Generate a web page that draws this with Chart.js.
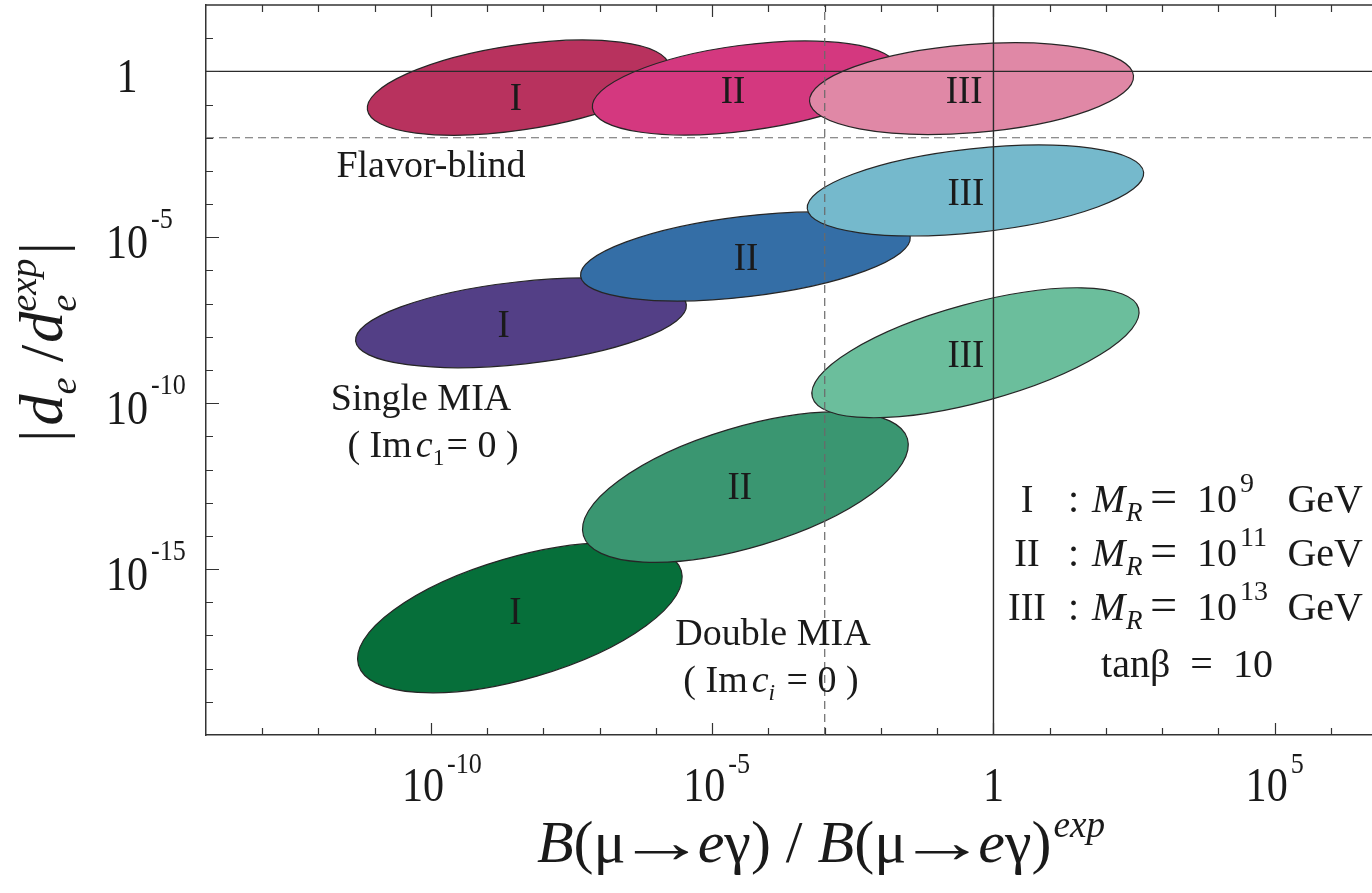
<!DOCTYPE html>
<html>
<head>
<meta charset="utf-8">
<script src="https://cdn.jsdelivr.net/npm/chart.js@4.4.0/dist/chart.umd.min.js"></script>
<style>
html, body { margin: 0; padding: 0; background: #fff; overflow: hidden; }
#wrap { width: 1372px; height: 893px; position: relative; }
</style>
</head>
<body>
<div id="wrap"><canvas id="edmChart"></canvas></div>
<script>
// all region values are log10 (decades) on both axes
var models = ["I", "II", "III"];

// flavor-blind regions
var flavorCx = [-8.45, -4.42, -0.39];
var flavorCy = [-0.49, -0.50, -0.52];
var flavorTipDx = [2.68, 2.71, 2.88];   // half major axis, x part
var flavorTipDy = [0.67, 0.61, 0.39];   // half major axis, y part
var flavorHalfW = [1.28, 1.29, 1.33];   // half minor axis
var flavorLabX = [-8.49, -4.63, -0.52];
var flavorLabY = [-0.77, -0.55, -0.55];

// single MIA regions
var singleCx = [-8.40, -4.41, -0.32];
var singleCy = [-7.58, -5.58, -3.59];
var singleTipDx = [2.94, 2.93, 2.99];
var singleTipDy = [0.55, 0.59, 0.55];
var singleHalfW = [1.24, 1.21, 1.26];
var singleLabX = [-8.71, -4.40, -0.49];
var singleLabY = [-7.60, -5.58, -3.64];

// double MIA regions
var doubleCx = [-8.42, -4.41, -0.32];
var doubleCy = [-16.47, -12.53, -8.48];
var doubleTipDx = [2.87, 2.88, 2.90];
var doubleTipDy = [1.42, 1.46, 1.34];
var doubleHalfW = [1.83, 1.81, 1.48];
var doubleLabX = [-8.50, -4.51, -0.49];
var doubleLabY = [-16.25, -12.51, -8.53];

// reference lines (experimental bounds)
var refLineX = [1, 1e-3];
var refLineY = [1, 1e-2];
var refDashed = [false, true];

// axes
var xRange = [-14, 6.73];
var yRange = [-20, 2];
var xTickExp = [-10, -5, 0, 5];
var yTickExp = [0, -5, -10, -15];
var legendExp = ['9', '11', '13'];

var flavorColors = ['#b8325e', '#d4387f', '#e088a6'];
var singleColors = ['#533f86', '#346ea6', '#75b9cc'];
var doubleColors = ['#066f3a', '#3a9671', '#6bbe9c'];

var SERIF = '"Liberation Serif", "Times New Roman", serif';

var groups = [
    {cx: flavorCx, cy: flavorCy, dx: flavorTipDx, dy: flavorTipDy, hw: flavorHalfW, lx: flavorLabX, ly: flavorLabY, colors: flavorColors},
    {cx: singleCx, cy: singleCy, dx: singleTipDx, dy: singleTipDy, hw: singleHalfW, lx: singleLabX, ly: singleLabY, colors: singleColors},
    {cx: doubleCx, cy: doubleCy, dx: doubleTipDx, dy: doubleTipDy, hw: doubleHalfW, lx: doubleLabX, ly: doubleLabY, colors: doubleColors}
];

function p10(v) { return Math.pow(10, v); }

// plain text, optionally squeezed horizontally
function textS(ctx, t, x, y, font, align, sx) {
    sx = sx || 1;
    ctx.save();
    ctx.font = font;
    ctx.textBaseline = 'alphabetic';
    ctx.textAlign = 'left';
    var w = ctx.measureText(t).width * sx;
    var x0 = align === 'center' ? x - w / 2 : (align === 'right' ? x - w : x);
    ctx.translate(x0, y);
    ctx.scale(sx, 1);
    ctx.fillText(t, 0, 0);
    ctx.restore();
    return w;
}

// rich text: segments with italic / sub / sup / horizontal stretch
function layoutRich(ctx, segs, size) {
    var x = 0, parts = [], prevStart = 0, prevW = 0;
    segs.forEach(function (s) {
        var fs = (s.sub || s.sup) ? size * 0.62 : size;
        var font = (s.it ? 'italic ' : '') + fs + 'px ' + SERIF;
        var sx = s.sx || 1;
        ctx.font = font;
        var w = ctx.measureText(s.t).width * sx;
        var start = s.stack ? prevStart : x + (s.gap || 0);
        parts.push({t: s.t, font: font, x: start, sx: sx, dy: (s.sub ? size * 0.22 : (s.sup ? -size * 0.42 : 0)) + (s.dy || 0)});
        var end = start + w + (s.after || 0);
        if (s.stack) end = Math.max(end, prevStart + prevW);
        prevStart = start; prevW = w; x = end;
    });
    return {parts: parts, width: x};
}

function drawRich(ctx, segs, x, y, size, align) {
    var lay = layoutRich(ctx, segs, size);
    var off = align === 'center' ? -lay.width / 2 : (align === 'right' ? -lay.width : 0);
    ctx.textAlign = 'left';
    ctx.textBaseline = 'alphabetic';
    lay.parts.forEach(function (p) {
        ctx.save();
        ctx.font = p.font;
        ctx.translate(x + off + p.x, y + p.dy);
        ctx.scale(p.sx, 1);
        ctx.fillText(p.t, 0, 0);
        ctx.restore();
    });
}

var regionPlugin = {
    id: 'regions',
    beforeDatasetsDraw: function (chart) {
        var ctx = chart.ctx, xs = chart.scales.x, ys = chart.scales.y, area = chart.chartArea;
        ctx.save();
        ctx.beginPath();
        ctx.rect(area.left, area.top, area.right - area.left, area.bottom - area.top);
        ctx.clip();
        groups.forEach(function (g) {
            for (var i = 0; i < models.length; i++) {
                var px = xs.getPixelForValue(p10(g.cx[i]));
                var py = ys.getPixelForValue(p10(g.cy[i]));
                var tx = xs.getPixelForValue(p10(g.cx[i] + g.dx[i])) - px;
                var ty = ys.getPixelForValue(p10(g.cy[i] + g.dy[i])) - py;
                var a = Math.sqrt(tx * tx + ty * ty);
                var b = Math.abs(ys.getPixelForValue(p10(g.cy[i] - g.hw[i])) - py);
                ctx.beginPath();
                ctx.ellipse(px, py, a, b, Math.atan2(ty, tx), 0, 2 * Math.PI);
                ctx.fillStyle = g.colors[i];
                ctx.fill();
                ctx.lineWidth = 1.2;
                ctx.strokeStyle = '#262626';
                ctx.stroke();
            }
        });
        ctx.restore();
    },
    afterDraw: function (chart) {
        var ctx = chart.ctx, xs = chart.scales.x, ys = chart.scales.y, area = chart.chartArea;
        ctx.save();
        ctx.fillStyle = '#1a1a1a';

        // region labels
        groups.forEach(function (g) {
            for (var i = 0; i < models.length; i++) {
                textS(ctx, models[i], xs.getPixelForValue(p10(g.lx[i])), ys.getPixelForValue(p10(g.ly[i])) + 13,
                    '40px ' + SERIF, 'center', 0.92);
            }
        });

        // frame top line + inward ticks
        ctx.strokeStyle = '#333';
        ctx.lineWidth = 1.5;
        ctx.beginPath();
        ctx.moveTo(area.left, area.top);
        ctx.lineTo(area.right, area.top);
        ctx.stroke();
        ctx.lineWidth = 1.2;
        ctx.beginPath();
        for (var k = Math.ceil(xRange[0]) + 1; k <= Math.floor(xRange[1]); k++) {
            var xp = Math.round(xs.getPixelForValue(p10(k))) + 0.5;
            var len = (k % 5 === 0) ? 12 : 7;
            ctx.moveTo(xp, area.bottom); ctx.lineTo(xp, area.bottom - len);
            ctx.moveTo(xp, area.top); ctx.lineTo(xp, area.top + len);
        }
        for (var j = yRange[0] + 1; j < yRange[1]; j++) {
            var yp = Math.round(ys.getPixelForValue(p10(j))) + 0.5;
            var ylen = (j % 5 === 0) ? 13 : 7;
            ctx.moveTo(area.left, yp); ctx.lineTo(area.left + ylen, yp);
        }
        ctx.stroke();

        // tick labels
        var baseFont = '49px ' + SERIF, supFont = '29px ' + SERIF;
        xTickExp.forEach(function (e) {
            var xp = xs.getPixelForValue(p10(e));
            if (e === 0) {
                textS(ctx, '1', xp, area.bottom + 66, baseFont, 'center', 0.86);
            } else {
                var bc = xp - 8;
                var bw = textS(ctx, '10', bc, area.bottom + 66, baseFont, 'center', 0.86);
                textS(ctx, String(e), bc + bw / 2 + 3, area.bottom + 38, supFont, 'left', 0.9);
            }
        });
        yTickExp.forEach(function (e) {
            var yp = ys.getPixelForValue(p10(e));
            var bc = area.left - 79;
            if (e === 0) {
                textS(ctx, '1', bc, yp + 21, baseFont, 'center', 0.86);
            } else {
                var bw = textS(ctx, '10', bc, yp + 21, baseFont, 'center', 0.86);
                textS(ctx, String(e), bc + bw / 2 + 3, yp - 9, supFont, 'left', 0.9);
            }
        });

        // axis titles
        drawRich(ctx, [
            {t: 'B', it: 1}, {t: '(μ'}, {t: '→', sx: 1.5, gap: -9, after: -9}, {t: 'e', it: 1}, {t: 'γ)'}, {t: ' / '},
            {t: 'B', it: 1}, {t: '(μ'}, {t: '→', sx: 1.5, gap: -9, after: -9}, {t: 'e', it: 1}, {t: 'γ)'}, {t: 'exp', it: 1, sup: 1, gap: 2}
        ], 821, 862, 60, 'center');

        ctx.save();
        ctx.translate(62, 342);
        ctx.rotate(-Math.PI / 2);
        drawRich(ctx, [
            {t: '|'}, {t: 'd', it: 1, gap: 4}, {t: 'e', it: 1, sub: 1}, {t: ' /'},
            {t: 'd', it: 1, gap: 2}, {t: 'e', it: 1, sub: 1}, {t: 'exp', it: 1, sup: 1, stack: 1}, {t: '|', gap: 4}
        ], 0, 0, 62, 'center');
        ctx.restore();

        // annotations
        drawRich(ctx, [{t: 'Flavor-blind'}], 431, 177, 38, 'center');
        drawRich(ctx, [{t: 'Single MIA'}], 421, 410, 38, 'center');
        drawRich(ctx, [{t: '( Im'}, {t: 'c', it: 1, gap: 4}, {t: '1', sub: 1}, {t: '= 0 )', gap: 2}], 433, 457, 38, 'center');
        drawRich(ctx, [{t: 'Double MIA'}], 773, 645, 38, 'center');
        drawRich(ctx, [{t: '( Im'}, {t: 'c', it: 1, gap: 4}, {t: 'i', it: 1, sub: 1}, {t: ' = 0 )', gap: 2}], 771, 692, 38, 'center');

        // legend block
        var rowY = [512, 566, 620];
        var lf = '40px ' + SERIF;
        for (var r = 0; r < models.length; r++) {
            textS(ctx, models[r], 1027, rowY[r], lf, 'center', 0.95);
            textS(ctx, ':', 1068, rowY[r], lf, 'left');
            textS(ctx, 'M', 1092, rowY[r], 'italic ' + lf, 'left');
            textS(ctx, 'R', 1126, rowY[r] + 9, 'italic 27px ' + SERIF, 'left');
            textS(ctx, '=', 1150, rowY[r], '46px ' + SERIF, 'left', 1.05);
            var w10 = textS(ctx, '10', 1197, rowY[r], lf, 'left');
            textS(ctx, legendExp[r], 1197 + w10 + 3, rowY[r] - 20, '28px ' + SERIF, 'left');
            textS(ctx, 'GeV', 1363, rowY[r], lf, 'right');
        }
        textS(ctx, 'tanβ  =  10', 1187, 677, lf, 'center');
        ctx.restore();
    }
};

var datasets = [];
refLineY.forEach(function (v, i) {
    datasets.push({
        type: 'line', data: [{x: p10(xRange[0]), y: v}, {x: p10(xRange[1]), y: v}],
        borderColor: refDashed[i] ? '#6a6a6a' : '#2b2b2b', borderWidth: refDashed[i] ? 1.2 : 1.4,
        borderDash: refDashed[i] ? [8, 5] : [], pointRadius: 0, fill: false
    });
});
refLineX.forEach(function (v, i) {
    datasets.push({
        type: 'line', data: [{x: v, y: p10(yRange[0])}, {x: v, y: p10(yRange[1])}],
        borderColor: refDashed[i] ? '#6a6a6a' : '#2b2b2b', borderWidth: refDashed[i] ? 1.2 : 1.4,
        borderDash: refDashed[i] ? [8, 5] : [], pointRadius: 0, fill: false
    });
});

var edmChart = document.getElementById('edmChart').getContext('2d');
var myChart = new Chart(edmChart, {
    type: 'scatter',
    data: {datasets: datasets},
    options: {
        responsive: true,
        maintainAspectRatio: false,
        animation: false,
        layout: {padding: {left: 206, top: 5, right: 0, bottom: 158}},
        plugins: {legend: {display: false}, tooltip: {enabled: false}},
        scales: {
            x: {
                type: 'logarithmic', min: p10(xRange[0]), max: p10(xRange[1]), bounds: 'data',
                grid: {display: false, drawTicks: false}, ticks: {display: false},
                border: {display: true, color: '#333', width: 1.5}
            },
            y: {
                type: 'logarithmic', min: p10(yRange[0]), max: p10(yRange[1]), bounds: 'data',
                grid: {display: false, drawTicks: false}, ticks: {display: false},
                border: {display: true, color: '#333', width: 1.5}
            }
        }
    },
    plugins: [regionPlugin]
});
</script>
</body>
</html>
